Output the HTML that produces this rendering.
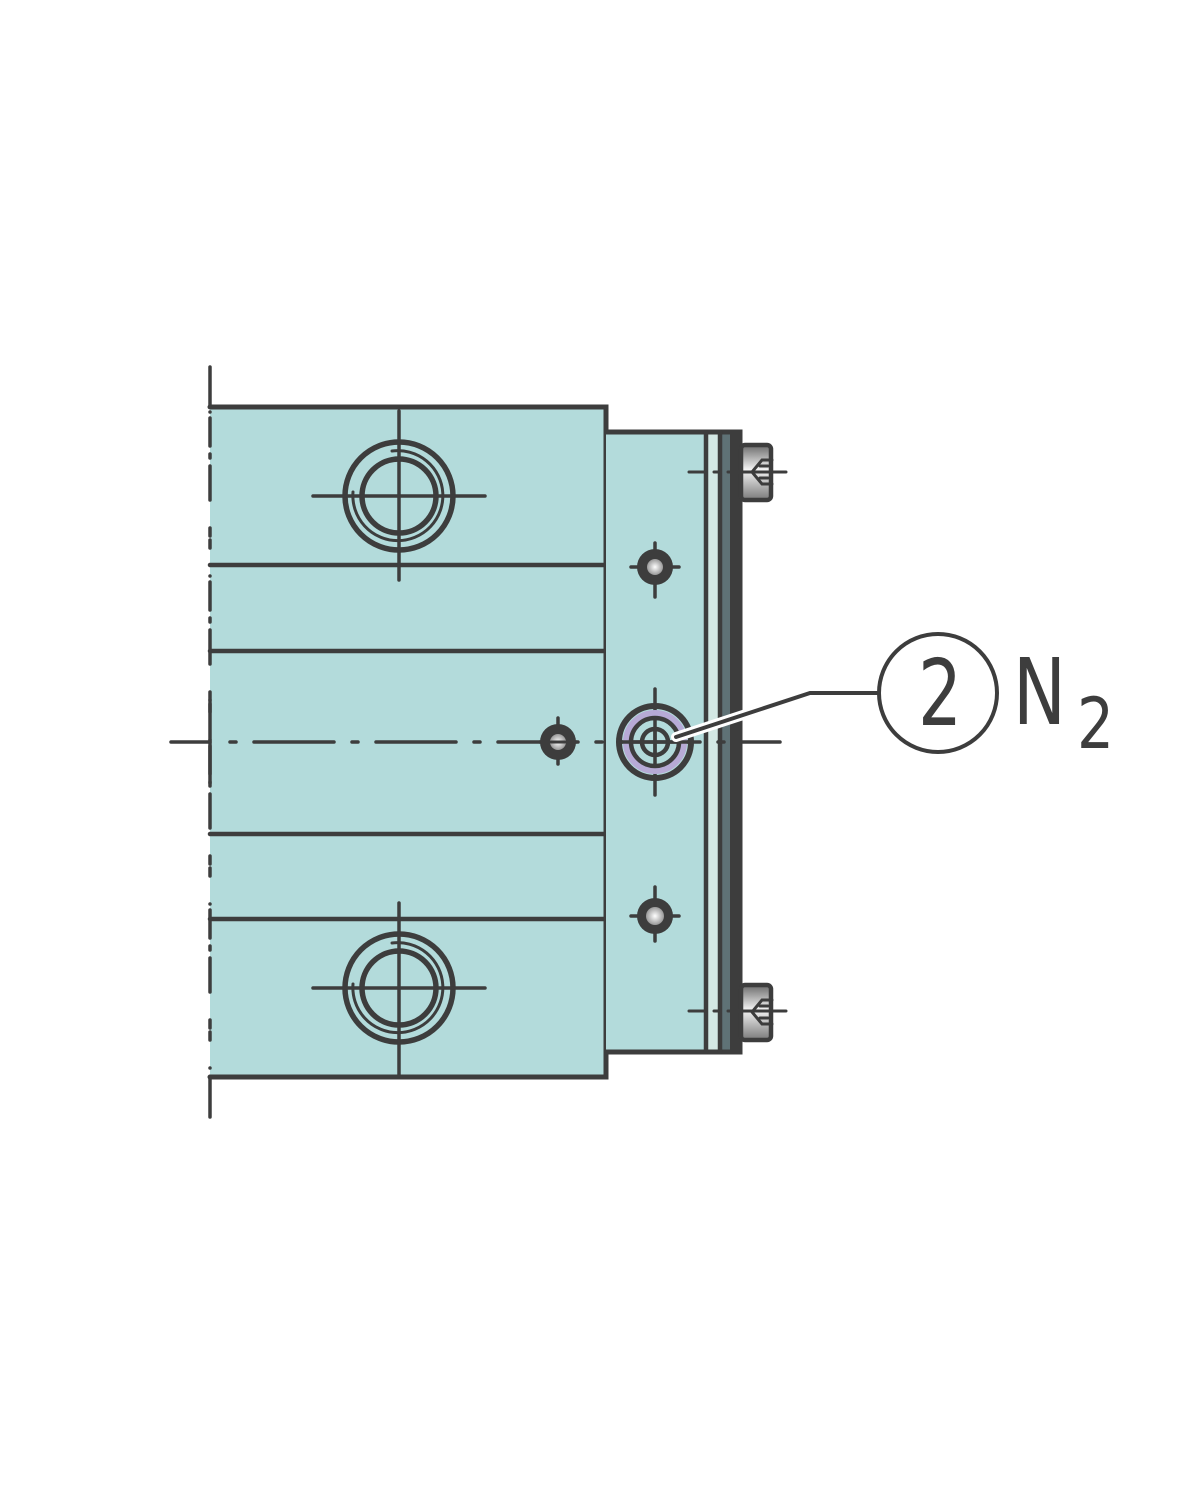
<!DOCTYPE html>
<html><head><meta charset="utf-8"><style>html,body{margin:0;padding:0;background:#fff}svg{display:block}</style></head>
<body>
<svg width="1200" height="1485" viewBox="0 0 1200 1485" xmlns="http://www.w3.org/2000/svg">
<defs>
<linearGradient id="sg" x1="0" y1="0" x2="0" y2="1">
<stop offset="0" stop-color="#6a6a6a"/><stop offset="0.45" stop-color="#f4f4f4"/><stop offset="1" stop-color="#7a7a7a"/>
</linearGradient>
<radialGradient id="hg"><stop offset="0" stop-color="#fff"/><stop offset="1" stop-color="#999"/></radialGradient>
</defs>
<g stroke="#3d3d3d" stroke-linecap="round" fill="none">
<rect x="210" y="407" width="396" height="670" fill="#b3dbdb" stroke="none"/>
<path d="M210 407H606V1077H210" stroke-width="5"/>
<path d="M210 565H604M210 651H604M210 834H604M210 919H604" stroke-width="4.5"/>
<rect x="606" y="432" width="100" height="620" fill="#b3dbdb" stroke="none"/>
<rect x="707" y="432" width="12" height="620" fill="#d3e8e4" stroke="none"/>
<rect x="719" y="432" width="12" height="620" fill="#5f7276" stroke="none"/>
<path d="M606 432H740V1052H606" stroke-width="5"/>
<path d="M706 432V1052M720 432V1052" stroke-width="4.5"/>
<path d="M735 432V1052" stroke-width="10" stroke-linecap="butt"/>
<rect x="741" y="445" width="30" height="55" rx="4" fill="url(#sg)" stroke-width="4.5"/>
<rect x="741" y="985" width="30" height="55" rx="4" fill="url(#sg)" stroke-width="4.5"/>
<path d="M772 460H762L752 472L762 484H772M760 466H768M760 478H768" stroke-width="3"/>
<path d="M772 1000H762L752 1012L762 1024H772M760 1006H768M760 1018H768" stroke-width="3"/>
<path d="M689 472H704M714 472H718M728 472H786M689 1011H704M714 1011H718M728 1011H786" stroke-width="3"/>
<path d="M210 367V407M210 1077V1117M210 700V783" stroke-width="3.5"/>
<path d="M210 412V1072" stroke-width="3.5" stroke-dasharray="0 6 28 8 4 8 28"/>
<path d="M171 742H210" stroke-width="3.5"/>
<path d="M230 742H780" stroke-width="3.5" stroke-dasharray="6 18 80 18"/>
<g stroke-width="5.5">
<circle cx="399" cy="496" r="54"/><circle cx="399" cy="496" r="37"/>
<circle cx="399" cy="988" r="54"/><circle cx="399" cy="988" r="37"/>
</g>
<path d="M392 451A45 45 0 1 1 353 492" stroke-width="3"/>
<path d="M392 943A45 45 0 1 1 353 984" stroke-width="3"/>
<path d="M313 496H485M399 411V580M313 988H485M399 903V1076" stroke-width="3.5"/>
<g stroke-width="3.5">
<path d="M631 567H679M655 543V597M631 916H679M655 887V941M540 742H576M558 718V764"/>
</g>
<circle cx="655" cy="567" r="18" fill="#3d3d3d" stroke="none"/><circle cx="655" cy="567" r="8" fill="url(#hg)" stroke="none"/>
<circle cx="655" cy="916" r="18" fill="#3d3d3d" stroke="none"/><circle cx="655" cy="916" r="9" fill="url(#hg)" stroke="none"/>
<circle cx="558" cy="742" r="18" fill="#3d3d3d" stroke="none"/><circle cx="558" cy="742" r="8" fill="url(#hg)" stroke="none"/>
<path d="M551 742H565" stroke-width="3"/>
<path d="M655 689V795" stroke-width="3.5"/>
<circle cx="655" cy="742" r="36" stroke-width="6"/>
<circle cx="655" cy="742" r="29" stroke="#b7aad6" stroke-width="6"/>
<circle cx="655" cy="742" r="24" stroke-width="4.5"/>
<circle cx="655" cy="742" r="13" stroke-width="4.5"/>
<path d="M620 742H690M655 729V755" stroke-width="3.5"/>
<path d="M676 737L810 693H880" stroke="#fff" stroke-width="10"/>
<path d="M676 737L810 693H880" stroke-width="4"/>
<circle cx="938" cy="693" r="59" stroke-width="4" fill="#fff"/>
</g>
<g fill="#3d3d3d" font-family="'DejaVu Sans','Liberation Sans',sans-serif">
<text x="940" y="725" font-size="92" text-anchor="middle" textLength="44" lengthAdjust="spacingAndGlyphs">2</text>
<text x="1013" y="724" font-size="92" textLength="53" lengthAdjust="spacingAndGlyphs">N</text>
<text x="1077" y="748" font-size="70" textLength="37" lengthAdjust="spacingAndGlyphs">2</text>
</g>
</svg>
</body></html>
